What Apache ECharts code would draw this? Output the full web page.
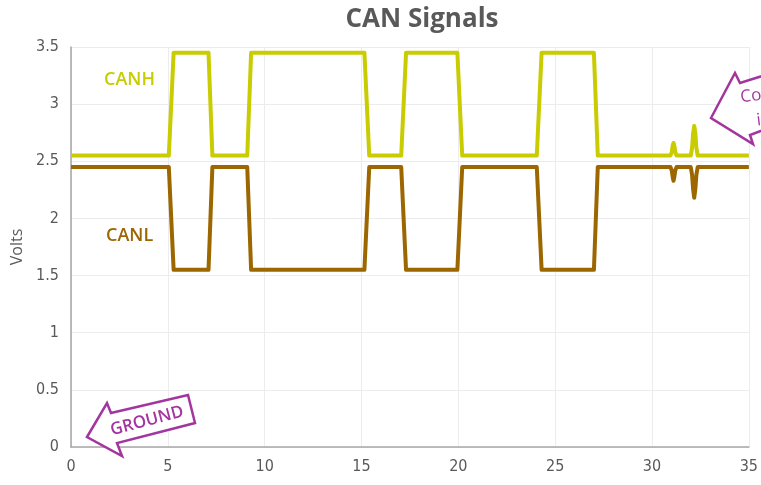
<!DOCTYPE html>
<html>
<head>
<meta charset="utf-8">
<script src="https://cdn.jsdelivr.net/npm/echarts@6/dist/echarts.min.js"></script>
<style>html,body{margin:0;padding:0;background:#fff;}#c{width:761px;height:485px;}</style>
</head>
<body>
<div id="c"></div>
<script>
var xTicks = [0, 5, 10, 15, 20, 25, 30, 35];
var yTicks = [0, 0.5, 1, 1.5, 2, 2.5, 3, 3.5];

var canhPoints = [
  [0, 2.55], [5.05, 2.55], [5.3, 3.45], [7.1, 3.45], [7.3, 2.55],
  [9.1, 2.55], [9.3, 3.45], [15.15, 3.45], [15.4, 2.55],
  [17.05, 2.55], [17.3, 3.45], [19.95, 3.45], [20.2, 2.55],
  [24.05, 2.55], [24.3, 3.45], [27.0, 3.45], [27.2, 2.55],
  [30.95, 2.55], [31.02, 2.58], [31.07, 2.64], [31.11, 2.66], [31.15, 2.64], [31.2, 2.58], [31.27, 2.55],
  [32.0, 2.55], [32.07, 2.62], [32.12, 2.74], [32.18, 2.81], [32.24, 2.74], [32.29, 2.62], [32.36, 2.55],
  [35, 2.55]
];
var canlPoints = [
  [0, 2.45], [5.05, 2.45], [5.3, 1.55], [7.1, 1.55], [7.3, 2.45],
  [9.1, 2.45], [9.3, 1.55], [15.15, 1.55], [15.4, 2.45],
  [17.05, 2.45], [17.3, 1.55], [19.95, 1.55], [20.2, 2.45],
  [24.05, 2.45], [24.3, 1.55], [27.0, 1.55], [27.2, 2.45],
  [30.95, 2.45], [31.02, 2.42], [31.07, 2.36], [31.11, 2.33], [31.15, 2.36], [31.2, 2.42], [31.27, 2.45],
  [32.0, 2.45], [32.07, 2.38], [32.12, 2.26], [32.18, 2.18], [32.24, 2.26], [32.29, 2.38], [32.36, 2.45],
  [35, 2.45]
];

var canhColor = '#c8cc00';
var canlColor = '#9c6600';
var purple = '#a3359f';
var narrow = '"Liberation Sans Narrow", "DejaVu Sans Condensed", "Liberation Sans", sans-serif';
var sans = '"Open Sans", "Liberation Sans", sans-serif';

var chart = echarts.init(document.getElementById('c'));
chart.setOption({
  animation: false,
  title: {
    text: 'CAN Signals', left: 417, top: 2, textAlign: 'center',
    textStyle: { fontFamily: sans, fontWeight: 'bold', fontSize: 26, color: '#595959' }
  },
  grid: { left: 71, right: 11, top: 47, bottom: 38 },
  xAxis: {
    type: 'value', min: xTicks[0], max: xTicks[xTicks.length - 1], interval: 5,
    axisLine: { show: true, lineStyle: { color: '#a6a6a6', width: 1.5 } },
    axisTick: { show: false },
    splitLine: { show: true, lineStyle: { color: '#ececec', width: 1 } },
    axisLabel: { color: '#595959', fontSize: 16, fontFamily: narrow, margin: 12 }
  },
  yAxis: {
    type: 'value', min: yTicks[0], max: yTicks[yTicks.length - 1], interval: 0.5,
    name: 'Volts', nameLocation: 'middle', nameGap: 45, nameRotate: 90,
    nameTextStyle: { color: '#595959', fontSize: 16, fontFamily: sans },
    axisLine: { show: true, lineStyle: { color: '#a6a6a6', width: 1.5 } },
    axisTick: { show: false },
    splitLine: { show: true, lineStyle: { color: '#ececec', width: 1 } },
    axisLabel: { color: '#595959', fontSize: 16, fontFamily: narrow, margin: 12 }
  },
  series: [
    { name: 'CANH', type: 'line', data: canhPoints, showSymbol: false, symbol: 'none',
      lineStyle: { color: canhColor, width: 4, join: 'round' }, z: 3 },
    { name: 'CANL', type: 'line', data: canlPoints, showSymbol: false, symbol: 'none',
      lineStyle: { color: canlColor, width: 4, join: 'round' }, z: 3 }
  ],
  graphic: [
    { type: 'text', left: 104, top: 71, style: { text: 'CANH', fill: canhColor, fontSize: 18, fontWeight: 600, fontFamily: sans } },
    { type: 'text', left: 106, top: 227, style: { text: 'CANL', fill: canlColor, fontSize: 18, fontWeight: 600, fontFamily: sans } },
    { type: 'polygon', z: 10,
      shape: { points: [[87, 437], [107, 403], [111, 413], [188, 395], [195, 423], [117, 443], [122, 456]] },
      style: { fill: '#fff', stroke: purple, lineWidth: 2.5, lineJoin: 'miter' } },
    { type: 'text', z: 11, x: 147, y: 421, rotation: 0.26,
      style: { text: 'GROUND', fill: purple, fontSize: 17, fontWeight: 600, fontFamily: sans, align: 'center', verticalAlign: 'middle' } },
    { type: 'polygon', z: 10,
      shape: { points: [[711, 118], [735, 73], [740, 83], [800, 64], [812, 112], [750, 135], [753, 144]] },
      style: { fill: '#fff', stroke: purple, lineWidth: 2.5, lineJoin: 'miter' } },
    { type: 'text', z: 11, x: 739, y: 85, rotation: 0.12,
      style: { text: 'Common\n   interference', fill: purple, fontSize: 17, lineHeight: 25, fontFamily: sans, align: 'left', verticalAlign: 'top' } }
  ]
});
</script>
</body>
</html>
